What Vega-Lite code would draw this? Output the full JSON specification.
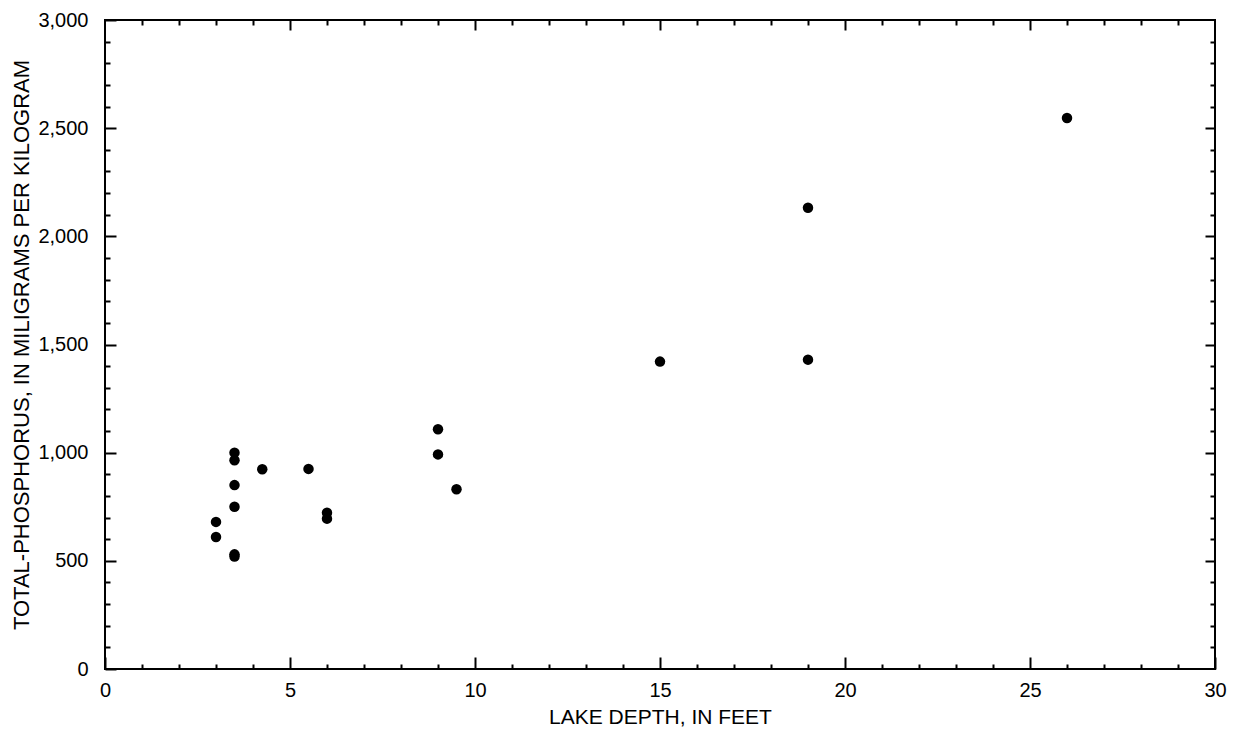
{
  "$schema": "https://vega.github.io/schema/vega-lite/v6.json",
  "width": 1110,
  "height": 649,
  "autosize": "none",
  "padding": {"left": 105, "top": 20, "right": 24, "bottom": 63},
  "background": "white",
  "config": {
    "view": {"stroke": "black", "strokeWidth": 2},
    "font": "Liberation Sans",
    "axis": {
      "domain": false,
      "grid": false,
      "tickColor": "black",
      "tickWidth": 2,
      "labelColor": "black",
      "titleColor": "black",
      "labelFont": "Liberation Sans",
      "titleFont": "Liberation Sans",
      "labelFontSize": 20,
      "titleFontSize": 21,
      "titleFontWeight": "normal"
    }
  },
  "data": {
    "values": [
      {"depth": 3, "tp": 680},
      {"depth": 3, "tp": 610},
      {"depth": 3.5, "tp": 1000},
      {"depth": 3.5, "tp": 965},
      {"depth": 3.5, "tp": 850},
      {"depth": 3.5, "tp": 750},
      {"depth": 3.5, "tp": 530},
      {"depth": 3.5, "tp": 520},
      {"depth": 4.25, "tp": 923},
      {"depth": 5.5, "tp": 925},
      {"depth": 6, "tp": 722},
      {"depth": 6, "tp": 695},
      {"depth": 9, "tp": 1108},
      {"depth": 9, "tp": 992},
      {"depth": 9.5, "tp": 831},
      {"depth": 15, "tp": 1421},
      {"depth": 19, "tp": 2132},
      {"depth": 19, "tp": 1430},
      {"depth": 26, "tp": 2547}
    ]
  },
  "layer": [
    {
      "mark": {"type": "circle", "color": "black", "opacity": 1, "size": 110},
      "encoding": {
        "x": {
          "field": "depth", "type": "quantitative",
          "scale": {"domain": [0, 30], "nice": false, "zero": true},
          "axis": {
            "orient": "bottom",
            "values": [0, 5, 10, 15, 20, 25, 30],
            "tickSize": -12,
            "labelPadding": 23,
            "labelFlush": false,
            "labelFontSize": 20,
            "titleFontSize": 21,
            "title": "LAKE DEPTH, IN FEET",
            "titlePadding": 6
          }
        },
        "y": {
          "field": "tp", "type": "quantitative",
          "scale": {"domain": [0, 3000], "nice": false},
          "axis": {
            "orient": "left",
            "values": [0, 500, 1000, 1500, 2000, 2500, 3000],
            "format": ",d",
            "tickSize": -11,
            "labelPadding": 28,
            "labelFlush": false,
            "labelFontSize": 20,
            "titleFontSize": 22,
            "title": "TOTAL-PHOSPHORUS, IN MILIGRAMS PER KILOGRAM",
            "titlePadding": 4
          }
        }
      }
    },
    {
      "mark": {"type": "point", "opacity": 0},
      "encoding": {
        "x": {
          "field": "depth", "type": "quantitative",
          "axis": {
            "orient": "bottom",
            "values": [1,2,3,4,6,7,8,9,11,12,13,14,16,17,18,19,21,22,23,24,26,27,28,29],
            "tickSize": -5,
            "labels": false,
            "title": null
          }
        },
        "y": {
          "field": "tp", "type": "quantitative",
          "axis": {
            "orient": "left",
            "values": [100,200,300,400,600,700,800,900,1100,1200,1300,1400,1600,1700,1800,1900,2100,2200,2300,2400,2600,2700,2800,2900],
            "tickSize": -5,
            "labels": false,
            "title": null
          }
        }
      }
    },
    {
      "mark": {"type": "point", "opacity": 0},
      "encoding": {
        "x": {
          "field": "depth", "type": "quantitative",
          "axis": {
            "orient": "top",
            "values": [5, 10, 15, 20, 25],
            "tickSize": -10,
            "labels": false,
            "title": null
          }
        },
        "y": {
          "field": "tp", "type": "quantitative",
          "axis": {
            "orient": "right",
            "values": [500, 1000, 1500, 2000, 2500],
            "tickSize": -10,
            "labels": false,
            "title": null
          }
        }
      }
    },
    {
      "mark": {"type": "point", "opacity": 0},
      "encoding": {
        "x": {
          "field": "depth", "type": "quantitative",
          "axis": {
            "orient": "top",
            "values": [1,2,3,4,6,7,8,9,11,12,13,14,16,17,18,19,21,22,23,24,26,27,28,29],
            "tickSize": -5,
            "labels": false,
            "title": null
          }
        },
        "y": {
          "field": "tp", "type": "quantitative",
          "axis": {
            "orient": "right",
            "values": [100,200,300,400,600,700,800,900,1100,1200,1300,1400,1600,1700,1800,1900,2100,2200,2300,2400,2600,2700,2800,2900],
            "tickSize": -5,
            "labels": false,
            "title": null
          }
        }
      }
    }
  ],
  "resolve": {"axis": {"x": "independent", "y": "independent"}}
}
